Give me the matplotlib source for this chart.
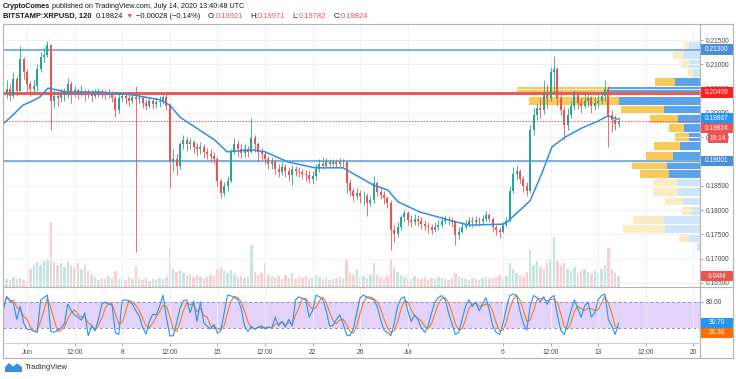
import numpy as np
import matplotlib
matplotlib.use("Agg")
import matplotlib.pyplot as plt
from matplotlib.patches import Rectangle, Polygon
from matplotlib.lines import Line2D

plt.rcParams["font.family"] = ["Liberation Sans", "DejaVu Sans"]

W, H = 736, 379

# --- данные (свечи по 6 часов, день 0 = 1 июня) ---
first_open = 0.2006
closes = [
    .2040, .2050, .2035, .2070, .2045, .2110, .2085, .2060, .2050, .2055,
    .2090, .2115, .2120, .2140, .2025, .2035, .2030, .2038, .2040, .2060,
    .2042, .2048, .2040, .2045, .2038, .2042, .2035, .2040, .2045, .2040,
    .2038, .2040, .2030, .2005, .2030, .2035, .2030, .2025, .2032, .2028,
    .2030, .2020, .2015, .2025, .2018, .2022, .2025, .2032, .2015, .1900,
    .1905, .1890, .1935, .1945, .1935, .1940, .1930, .1925, .1930, .1920,
    .1915, .1912, .1905, .1860, .1835, .1850, .1860, .1920, .1935, .1925,
    .1918, .1925, .1920, .1948, .1935, .1920, .1915, .1905, .1895, .1900,
    .1885, .1878, .1888, .1880, .1872, .1885, .1880, .1878, .1875, .1872,
    .1865, .1870, .1885, .1895, .1890, .1898, .1895, .1898, .1895, .1900,
    .1898, .1855, .1840, .1830, .1835, .1828, .1830, .1815, .1820, .1855,
    .1838, .1832, .1825, .1815, .1760, .1750, .1765, .1785, .1795, .1780,
    .1775, .1782, .1778, .1772, .1768, .1765, .1760, .1765, .1770, .1778,
    .1782, .1780, .1775, .1748, .1755, .1765, .1772, .1778, .1775, .1780,
    .1778, .1782, .1790, .1782, .1765, .1758, .1755, .1770, .1778, .1840,
    .1875, .1880, .1865, .1850, .1840, .1965, .1995, .2010, .2005, .2040,
    .2030, .2085, .2090, .2030, .2005, .1975, .1995, .2015, .2040, .2020,
    .2015, .2025, .2030, .2015, .2020, .2025, .2035, .2050, .1995, .1985,
    .1978, .19824,
]
highs = [
    .2048, .2068, .2060, .2085, .2075, .2138, .2115, .2090, .2065, .2070,
    .2100, .2125, .2135, .2148, .2142, .2048, .2045, .2050, .2052, .2072,
    .2065, .2055, .2052, .2058, .2050, .2050, .2048, .2050, .2052, .2050,
    .2048, .2050, .2045, .2035, .2040, .2042, .2040, .2038, .2042, .2055,
    .2045, .2035, .2028, .2032, .2030, .2032, .2035, .2040, .2038, .2020,
    .1925, .1915, .1940, .1955, .1950, .1948, .1945, .1938, .1940, .1935,
    .1928, .1925, .1920, .1910, .1865, .1858, .1870, .1925, .1948, .1945,
    .1935, .1935, .1932, .1990, .1955, .1940, .1928, .1922, .1912, .1910,
    .1905, .1895, .1898, .1895, .1888, .1892, .1890, .1888, .1885, .1882,
    .1880, .1880, .1895, .1905, .1910, .1908, .1905, .1906, .1905, .1908,
    .1905, .1900, .1865, .1845, .1845, .1842, .1840, .1835, .1830, .1870,
    .1860, .1845, .1840, .1830, .1820, .1770, .1775, .1790, .1800, .1798,
    .1790, .1792, .1790, .1785, .1780, .1775, .1772, .1775, .1780, .1788,
    .1790, .1788, .1785, .1780, .1765, .1775, .1780, .1785, .1785, .1788,
    .1786, .1790, .1798, .1795, .1785, .1770, .1765, .1775, .1785, .1850,
    .1888, .1892, .1885, .1870, .1858, .1975, .2010, .2020, .2030, .2068,
    .2060, .2095, .2118, .2095, .2040, .2015, .2010, .2025, .2048, .2045,
    .2030, .2038, .2040, .2035, .2032, .2040, .2045, .2068, .2055, .2005,
    .1995, .1992,
]
lows = [
    .2000, .2030, .2025, .2030, .2035, .2045, .2070, .2045, .2035, .2040,
    .2045, .2085, .2105, .2115, .1965, .2010, .2015, .2022, .2025, .2030,
    .2020, .2032, .2028, .2035, .2025, .2030, .2022, .2030, .2032, .2030,
    .2028, .2030, .2022, .1992, .2000, .2025, .2018, .2015, .2020, .1714,
    .2020, .2010, .2005, .2010, .2008, .2010, .2012, .2018, .2005, .1845,
    .1880, .1872, .1885, .1925, .1922, .1925, .1918, .1912, .1915, .1908,
    .1905, .1900, .1895, .1850, .1825, .1830, .1840, .1858, .1915, .1912,
    .1908, .1910, .1910, .1918, .1920, .1900, .1905, .1895, .1885, .1885,
    .1875, .1868, .1872, .1868, .1860, .1852, .1870, .1868, .1865, .1860,
    .1855, .1855, .1862, .1878, .1885, .1888, .1888, .1890, .1888, .1890,
    .1888, .1835, .1830, .1818, .1822, .1815, .1810, .1788, .1808, .1815,
    .1828, .1822, .1812, .1805, .1718, .1735, .1745, .1760, .1775, .1770,
    .1765, .1770, .1768, .1762, .1758, .1752, .1750, .1755, .1760, .1765,
    .1772, .1770, .1765, .1728, .1740, .1752, .1762, .1765, .1766, .1768,
    .1768, .1772, .1778, .1775, .1755, .1748, .1742, .1752, .1765, .1775,
    .1835, .1862, .1855, .1838, .1830, .1835, .1955, .1985, .1990, .1998,
    .2010, .2025, .2040, .2015, .1995, .1945, .1965, .1990, .2005, .2008,
    .2000, .2010, .2012, .2000, .2005, .2010, .2018, .2025, .1930, .1960,
    .1965, .1972,
]
volumes = [
    6, 8, 7, 10, 8, 9, 7, 6, 18, 22,
    25, 22, 26, 28, 65, 25, 22, 24, 20, 26,
    22, 20, 24, 18, 22, 16, 12, 10, 7, 9,
    8, 11, 9, 16, 8, 9, 7, 10, 8, 21,
    8, 7, 9, 6, 8, 7, 9, 8, 10, 39,
    18, 15, 17, 14, 12, 13, 10, 12, 11, 9,
    10, 12, 11, 18, 20, 16, 14, 17, 12, 10,
    11, 9, 10, 42, 15, 12, 14, 24, 12, 10,
    9, 11, 8, 12, 9, 14, 8, 10, 9, 11,
    8, 9, 12, 10, 8, 9, 7, 8, 9, 10,
    8, 27, 14, 12, 18, 10, 11, 9, 12, 24,
    12, 10, 9, 11, 27, 20, 15, 12, 10, 9,
    8, 11, 9, 8, 10, 7, 9, 8, 10, 9,
    8, 7, 9, 14, 10, 9, 8, 7, 9, 8,
    7, 9, 10, 8, 9, 10, 12, 9, 11, 24,
    18, 14, 12, 10, 15, 37, 22, 26, 20, 18,
    24, 28, 50, 26, 22, 24, 18, 16, 20, 14,
    16, 18, 15, 13, 17, 14, 18, 22, 39, 18,
    14, 11,
]
stoch_k = [
    62, 92, 85, 77, 40, 70, 32, 17, 17, 12,
    10, 84, 90, 96, 12, 10, 15, 20, 30, 75,
    60, 50, 45, 38, 55, 2, 25, 14, 40, 75,
    80, 75, 73, 9, 5, 83, 85, 82, 75, 60,
    48, 22, 6, 35, 52, 50, 70, 96, 45, 2,
    2, 32, 65, 83, 85, 55, 82, 35, 80, 32,
    24, 18, 28, 8, 14, 55, 96, 94, 90, 86,
    65, 25, 12, 24, 17, 22, 25, 18, 22, 20,
    45, 25, 35, 22, 40, 25, 85, 92, 88, 85,
    45, 60, 96, 92, 85, 60, 25, 25, 40, 50,
    30, 4, 2, 18, 55, 90, 96, 90, 88, 85,
    70, 40, 15, 10, 2, 30, 70, 88, 92, 60,
    35, 50, 40, 20, 10, 25, 55, 80, 90, 95,
    85, 55, 30, 5, 10, 40, 70, 85, 70, 80,
    60, 75, 90, 60, 25, 10, 5, 30, 65, 95,
    98, 95, 60, 30, 15, 70, 95, 90, 80, 92,
    75, 90, 95, 50, 15, 5, 30, 60, 85, 65,
    45, 70, 80, 45, 55, 85, 95, 98, 40, 25,
    5, 30.70,
]

# скользящая средняя (синяя линия), снята по точкам
ma_days = [-1.69, -1.03, -0.29, 0.44, 0.96, 1.54, 2.94, 5.37, 7.79, 9.78,
           10.51, 11.25, 12.35, 13.82, 14.71, 16.54, 17.50, 19.19, 21.18, 23.24,
           25.44, 26.54, 27.28, 28.90, 31.62, 32.57, 34.93, 35.29, 36.99, 37.87,
           38.60, 39.56, 40.81, 41.99, 42.72, 43.46]
ma_vals = [.1979, .1996, .2016, .2025, .2033, .2051, .2043, .2043, .2037, .2027,
           .2016, .1991, .1971, .1944, .1920, .1924, .1920, .1899, .1887, .1887,
           .1852, .1841, .1817, .1796, .1775, .1769, .1771, .1775, .1819, .1876,
           .1930, .1950, .1969, .1983, .1994, .1987]

# профиль объёма (сверху вниз): покупки / продажи
vp_up = [11, 17, 11, 7, 25, 91, 81, 36, 22, 16, 11, 20, 27, 33, 31, 23, 22, 17, 9, 36, 35, 11, 3]
vp_down = [5, 10, 8, 5, 20, 92, 90, 43, 28, 15, 14, 26, 27, 35, 29, 24, 25, 18, 9, 31, 42, 10, 0]
va_rows = range(4, 15)

level_blue = [0.21300, 0.19001]
level_red = 0.20409
last_price = 0.19824

tick_days = [0, 3.5, 7, 10.5, 14, 17.5, 21, 24.5, 28, 35, 38.5, 42, 45.5, 49]
tick_labels = ["Jun", "12:00", "8", "12:00", "15", "12:00", "22", "26", "Jul",
               "6", "12:00", "13", "12:00", "20"]

assert len(closes) == len(highs) == len(lows) == len(volumes) == len(stoch_k)

n = len(closes)
days = -1.75 + 0.25 * np.arange(n)
closes = np.array(closes)
opens = np.concatenate([[first_open], closes[:-1]])
up = closes >= opens
stoch_d = np.convolve(stoch_k, np.ones(3) / 3, mode="full")[:n]
stoch_d[:2] = stoch_k[:2]

XMIN, XMAX = -1.765, 49.49
YMIN, YMAX = 0.16417, 0.2183
GREEN, RED = "#26a69a", "#ef5350"
GRID = "#eff1f5"
TXT = "#4a4a4a"
FS = 4.8


def fx(x):
    return x / W


def fy(y):
    return 1 - y / H


fig = plt.figure(figsize=(W / 100, H / 100), dpi=100)
price_rect = [fx(3), fy(287), (700 - 3) / W, 263 / H]
rsi_rect = [fx(3), fy(343), (700 - 3) / W, 56 / H]

ax_vol = fig.add_axes(price_rect)
ax_vp = fig.add_axes(price_rect)
ax = fig.add_axes(price_rect)
ax_rsi = fig.add_axes(rsi_rect)

for a in (ax_vol, ax_vp, ax, ax_rsi):
    for s in a.spines.values():
        s.set_visible(False)
ax_vp.patch.set_visible(False)
ax.patch.set_visible(False)

# объём
ax_vol.set_xlim(XMIN, XMAX)
ax_vol.set_ylim(0, max(volumes) * 4.05)
ax_vol.bar(days, volumes, width=0.17,
           color=[GREEN if u else RED for u in up], alpha=0.28, lw=0)
ax_vol.set_xticks(tick_days)
ax_vol.grid(axis="x", color=GRID, lw=0.7)
ax_vol.set_yticks([])
ax_vol.tick_params(length=0, labelbottom=False)

# профиль объёма справа
edges = np.linspace(min(lows), max(highs), len(vp_up) + 1)[::-1]
centers = (edges[:-1] + edges[1:]) / 2
bin_h = edges[0] - edges[1]
tot = np.array(vp_up) + np.array(vp_down)
ax_vp.set_xlim(tot.max() / 0.262, 0)
ax_vp.set_ylim(YMIN, YMAX)
c_up = ["#5ba3ea" if i in va_rows else "#cfe5f9" for i in range(len(vp_up))]
c_dn = ["#f9c95a" if i in va_rows else "#fcecc3" for i in range(len(vp_up))]
ax_vp.barh(centers, vp_up, height=bin_h * 0.86, color=c_up, lw=0)
ax_vp.barh(centers, vp_down, left=vp_up, height=bin_h * 0.86, color=c_dn, lw=0)
ax_vp.set_yticks(np.arange(0.165, 0.2151, 0.005))
ax_vp.grid(axis="y", color=GRID, lw=0.7)
ax_vp.set_xticks([])
ax_vp.tick_params(length=0, labelleft=False)

# цена
ax.set_xlim(XMIN, XMAX)
ax.set_ylim(YMIN, YMAX)
for lv in level_blue:
    ax.axhline(lv, color="#5b9bd5", lw=1.1, zorder=2)
ax.axhline(level_red, color="#ee5a5a", lw=2.2, zorder=2)
ax.axhline(last_price, color=RED, lw=0.7, ls=(0, (1.5, 1.5)), zorder=2)

cols = [GREEN if u else RED for u in up]
ax.vlines(days, lows, highs, colors=cols, lw=0.6, zorder=3)
body = np.maximum(np.abs(closes - opens), 0.00008)
ax.bar(days, body, bottom=np.minimum(opens, closes), width=0.14,
       color=cols, lw=0, zorder=3)
ax.plot(ma_days, ma_vals, color="#2f8ee8", lw=1.1, zorder=4)

ax.yaxis.tick_right()
ax.set_yticks(np.arange(0.165, 0.2151, 0.005))
ax.set_yticklabels([f"{v:.5f}" for v in np.arange(0.165, 0.2151, 0.005)])
ax.tick_params(axis="y", length=2, pad=2, width=0.6, color="#9a9a9a",
               labelsize=FS, labelcolor=TXT)
ax.set_xticks([])

# Stoch RSI
ax_rsi.set_xlim(XMIN, XMAX)
ax_rsi.set_ylim(-14.6, 114.6)
ax_rsi.axhspan(20, 80, color="#e3d2fa", lw=0, zorder=0)
for lv in (20, 80):
    ax_rsi.axhline(lv, color="#9c8cb8", lw=0.7, ls=(0, (3, 2.5)), zorder=1)
ax_rsi.plot(days, stoch_d, color="#ff7a1a", lw=0.8, zorder=2)
ax_rsi.plot(days, stoch_k, color="#2196f3", lw=0.8, zorder=3)
ax_rsi.set_xticks(tick_days)
ax_rsi.set_xticklabels(tick_labels)
ax_rsi.grid(axis="x", color=GRID, lw=0.7, zorder=0)
ax_rsi.yaxis.tick_right()
ax_rsi.set_yticks([20, 80])
ax_rsi.set_yticklabels(["20.00", "80.00"])
ax_rsi.tick_params(axis="y", length=2, pad=2, width=0.6, color="#9a9a9a",
                   labelsize=FS, labelcolor=TXT)
ax_rsi.tick_params(axis="x", length=2, pad=2.5, width=0.6, color="#9a9a9a",
                   labelsize=FS, labelcolor=TXT)


# рамки
def line(x0, y0, x1, y1, color="#b4b4b4", lw=0.8):
    fig.add_artist(Line2D([fx(x0), fx(x1)], [fy(y0), fy(y1)],
                          transform=fig.transFigure, color=color, lw=lw))


line(3, 24, 733, 24)
line(3, 24, 3, 358)
line(3, 358, 733, 358)
line(733, 24, 733, 358)
line(700, 24, 700, 358)
line(3, 287, 733, 287)
line(3, 343, 700, 343, color="#cfcfcf")


# плашки на шкале
def box(yc, text, color, x0=700, w=33, h=10):
    fig.add_artist(Rectangle((fx(x0), fy(yc + h / 2)), w / W, h / H,
                             transform=fig.transFigure, color=color, lw=0))
    fig.text(fx(x0 + w / 2), fy(yc), text, color="white", fontsize=FS,
             ha="center", va="center")


box(49.5, "0.21300", "#4a8fd8")
box(92.5, "0.20409", "#ff1e1e")
box(118, "0.19867", "#2196f3")
box(128, "0.19824", RED)
box(138, "19:14", RED, x0=708, w=20)
box(161, "0.19001", "#4a8fd8")
box(276, "6.04M", RED)
box(323, "30.70", "#2196f3")
box(333, "20.36", "#ff6d00")

# заголовок
renderer = fig.canvas.get_renderer()


def segments(x, y, parts, size=5.2):
    for txt, color, weight, gap in parts:
        t = fig.text(fx(x), fy(y), txt, color=color, fontweight=weight,
                     fontsize=size, ha="left", va="center")
        x += t.get_window_extent(renderer).width + gap


DARK = "#131722"
segments(3, 6.5, [
    ("CryptoComes", DARK, "bold", 2),
    ("published on TradingView.com, July 14, 2020 13:40:48 UTC", DARK, "normal", 0),
])
segments(3, 16.5, [
    ("BITSTAMP:XRPUSD, 120", DARK, "bold", 4),
    ("0.19824", DARK, "normal", 3),
    ("\u25bc", RED, "normal", 3),
    ("\u22120.00028 (\u22120.14%)", DARK, "normal", 7),
    ("O:", DARK, "normal", 0.3),
    ("0.19921", RED, "normal", 7),
    ("H:", DARK, "normal", 0.3),
    ("0.19971", RED, "normal", 7),
    ("L:", DARK, "normal", 0.3),
    ("0.19782", RED, "normal", 7),
    ("C:", DARK, "normal", 0.3),
    ("0.19824", RED, "normal", 0),
], size=5.4)

# логотип
fig.add_artist(Polygon([(fx(5), fy(372)), (fx(5), fy(367)), (fx(9), fy(363)),
                        (fx(13), fy(366.5)), (fx(17), fy(363.5)), (fx(22), fy(367)),
                        (fx(22), fy(372))], closed=True, transform=fig.transFigure,
                       color="#3b8de0", lw=0))
fig.text(fx(25), fy(367.5), "TradingView", fontsize=5.6, color="#2a2e39",
         ha="left", va="center")

fig.savefig("out.png", dpi=100, facecolor="white")
